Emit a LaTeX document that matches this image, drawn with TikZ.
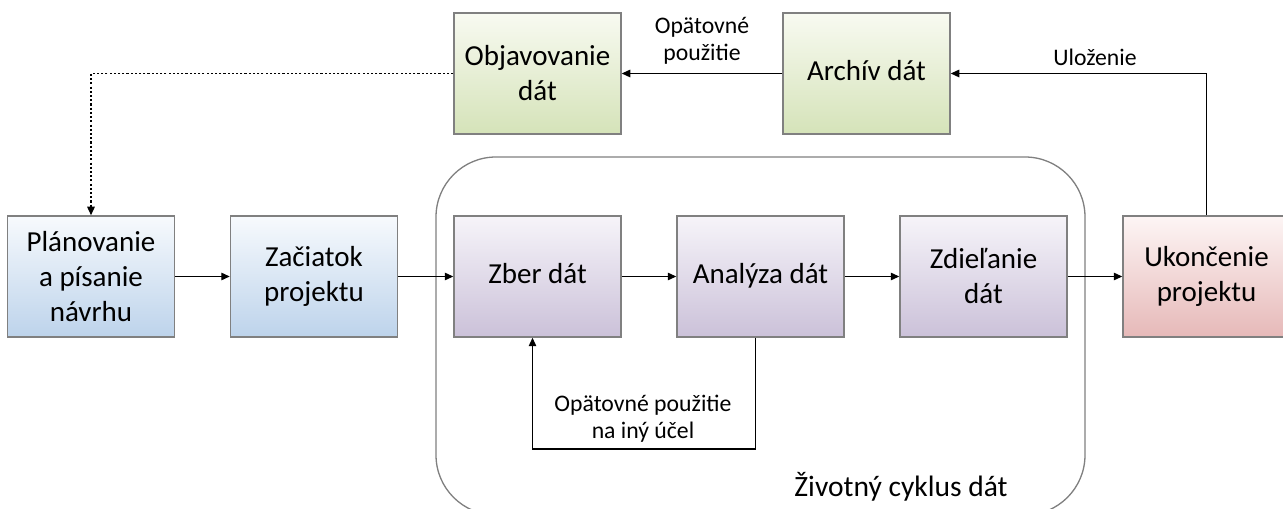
\documentclass[tikz,border=0pt]{standalone}
\usepackage{fontspec}
\setmainfont{Carlito}
\usetikzlibrary{arrows.meta}
\definecolor{boxline}{HTML}{808080}
\definecolor{prepTop}{HTML}{F7FAFD}
\definecolor{prepBot}{HTML}{BDD3EB}
\definecolor{findTop}{HTML}{F8FAF1}
\definecolor{findBot}{HTML}{D5E3B9}
\definecolor{cycTop}{HTML}{F6F4F9}
\definecolor{cycBot}{HTML}{CBC1D9}
\definecolor{endTop}{HTML}{FDF5F5}
\definecolor{endBot}{HTML}{E6B9B8}
\begin{document}
\begin{tikzpicture}[
every node/.style={anchor=center},
box/.style={draw=boxline,line width=0.85pt,minimum width=3.34cm,minimum height=2.42cm,inner sep=0pt,align=center,font=\fontsize{16.5}{19.9}\selectfont},
prep/.style={box,top color=prepTop,bottom color=prepBot},
find/.style={box,top color=findTop,bottom color=findBot},
cyc/.style={box,top color=cycTop,bottom color=cycBot},
fin/.style={box,top color=endTop,bottom color=endBot},
lbl/.style={align=center,inner sep=0pt,font=\fontsize{13.5}{15.6}\selectfont},
conn/.style={line width=0.75pt,-{Triangle[length=1.7mm,width=1.5mm]}},
]
\useasboundingbox (0,0) rectangle (25.66,10.16);
%\draw[help lines](0,0)grid(25,10);
\draw[boxline,line width=0.75pt,rounded corners=1.2cm](8.72,-0.14) rectangle (21.70,7.02);
\node[font=\fontsize{16.8}{19.9}\selectfont] (life) at (18.02,0.42) {Životný cyklus dát};

\node[prep] (plan) at (1.82,4.63) {Plánovanie\\a písanie\\návrhu};
\node[prep] (start) at (6.28,4.63) {Začiatok\\projektu};
\node[cyc] (zber) at (10.75,4.63) {\strut Zber dát};
\node[cyc] (analyza) at (15.21,4.63) {\strut Analýza dát};
\node[cyc] (zdiel) at (19.67,4.63) {Zdieľanie\\dát};
\node[fin] (ukon) at (24.13,4.63) {Ukončenie\\projektu};

\node[find] (objav) at (10.75,8.69) {Objavovanie\\dát};
\node[find] (archiv) at (17.33,8.69) {\strut Archív dát};

\draw[conn] (plan.east) -- (start.west);
\draw[conn] (start.east) -- (zber.west);
\draw[conn] (zber.east) -- (analyza.west);
\draw[conn] (analyza.east) -- (zdiel.west);
\draw[conn] (zdiel.east) -- (ukon.west);

%Reuse loop
\coordinate (reuse) at (12.86,1.18);
\draw[conn] ([xshift=-1mm]analyza.south) |- (reuse) -| ([xshift=-1mm]zber.south);
\node[lbl] (reuselbl) at (12.86,1.79) {Opätovné použitie\\na iný účel};

%Archive
\draw[conn] (ukon.north) |- (archiv.east);
\node[lbl] (store) at (21.90,9.02) {Uloženie};
\draw[conn] (archiv.west) -- (objav.east);
\node[lbl] (again) at (14.04,9.34) {Opätovné\\použitie};
\draw[conn,dash pattern=on 1.2pt off 1.2pt] (objav.west) -| (plan.north);
\end{tikzpicture}
\end{document}
